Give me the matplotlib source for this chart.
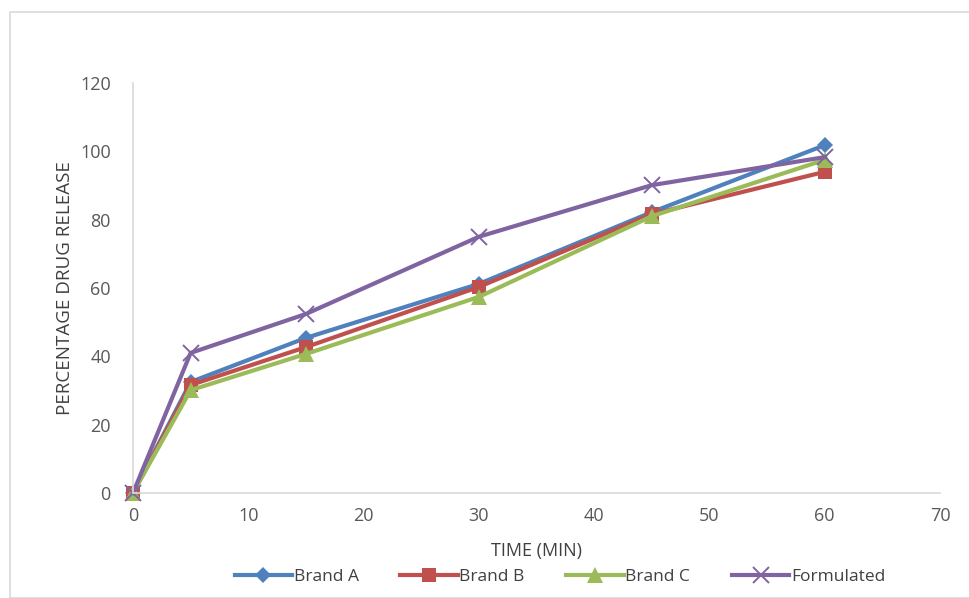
import matplotlib.pyplot as plt
from matplotlib.patches import Rectangle

plt.rcParams['font.family'] = ['Open Sans', 'DejaVu Sans']

time_min = [0, 5, 15, 30, 45, 60]
brand_a = [0, 32.5, 45.4, 61.2, 82.2, 101.8]
brand_b = [0, 31.6, 42.7, 60.3, 81.6, 94.0]
brand_c = [0, 30.1, 40.7, 57.4, 81.0, 97.5]
formulated = [0, 41.0, 52.4, 75.0, 90.1, 98.3]

x_ticks = [0, 10, 20, 30, 40, 50, 60, 70]
y_ticks = [0, 20, 40, 60, 80, 100, 120]

W, H = 970, 598
fig = plt.figure(figsize=(W / 100, H / 100), dpi=100)
fig.patches.append(Rectangle((10 / W, 0), 1.2, 1 - 12 / H, transform=fig.transFigure,
                             fill=False, edgecolor='#d9d9d9', linewidth=1.2))

ax = fig.add_axes([133 / W, 1 - 493 / H, (940 - 133) / W, (493 - 83) / H])

series = [
    ('Brand A', brand_a, '#4f81bd', 'D', 8),
    ('Brand B', brand_b, '#c0504d', 's', 10),
    ('Brand C', brand_c, '#9bbb59', '^', 11),
    ('Formulated', formulated, '#8064a2', 'x', 11),
]
for name, vals, col, mk, ms in series:
    ax.plot(time_min, vals, color=col, linewidth=3, marker=mk, markersize=ms,
            markeredgewidth=1.4 if mk == 'x' else 0, label=name, clip_on=False)

ax.set_xlim(0, 70)
ax.set_ylim(0, 120)
ax.set_xticks(x_ticks)
ax.set_yticks(y_ticks)
ax.tick_params(length=0, labelsize=13, colors='#595959', pad=10)
ax.tick_params(axis='y', pad=16)
for s in ['top', 'right']:
    ax.spines[s].set_visible(False)
for s in ['left', 'bottom']:
    ax.spines[s].set_color('#d9d9d9')
    ax.spines[s].set_linewidth(1.2)

ax.set_xlabel('TIME (MIN)', fontsize=13, color='#404040', labelpad=12)
ax.set_ylabel('PERCENTAGE DRUG RELEASE', fontsize=13.5, color='#404040', labelpad=4)

ax.legend(loc='center', bbox_to_anchor=(560 / W, 1 - 577 / H), bbox_transform=fig.transFigure,
          ncol=4, frameon=False, fontsize=12.5, handlelength=3.3, handletextpad=0.1,
          columnspacing=2.4, labelcolor='#404040')

fig.savefig('out.png', dpi=100)
